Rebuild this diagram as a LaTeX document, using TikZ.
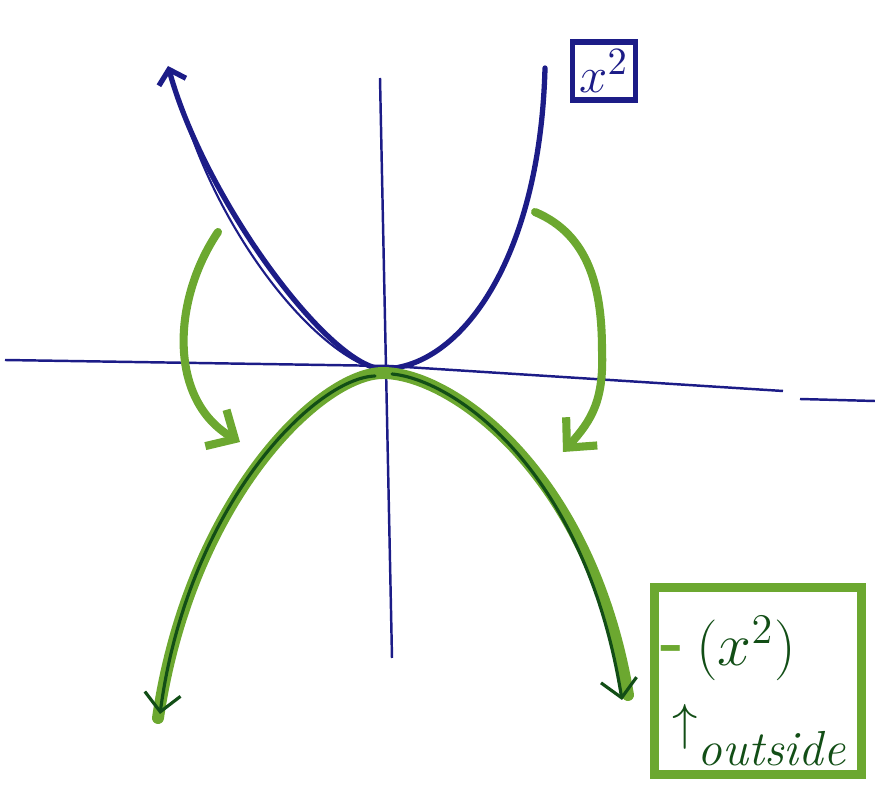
\documentclass[tikz,border=0pt]{standalone}
\usepackage{amsmath}
\usepackage{tikz}
\usetikzlibrary{arrows.meta}
\definecolor{penblue}{RGB}{28,28,135}
\definecolor{pengreen}{RGB}{108,168,48}
\definecolor{pendark}{RGB}{18,78,22}

\tikzset{
  axis/.style={penblue, line width=0.7pt},
  bluecurve/.style={penblue, line width=1.5pt, line cap=round},
  greencurve/.style={pengreen, line width=3.4pt, line cap=round},
  darkline/.style={pendark, line width=0.9pt, line cap=round},
  flip/.style={pengreen, line width=2.3pt, line cap=round,
    -{Straight Barb[length=2.2mm, width=4.2mm]}},
  darktip/.style={-{Straight Barb[length=1.8mm, width=3.6mm]}},
}

\begin{document}
\begin{tikzpicture}[x=0.01cm, y=-0.01cm]
  % 1 unit = 1 pixel of the sketch, y runs down
  \useasboundingbox (0,0) rectangle (875,785);

  % Axes
  \draw[axis] (5,360) -- (390,366) -- (783,391);
  \draw[axis] (800,399) -- (875,401);
  \draw[axis] (380,78) -- (392,658);

  % x^2 (blue, opens up)
  \coordinate (vtx) at (383,369);
  \draw[bluecurve, {Straight Barb[length=1.3mm, width=2.8mm]}-]
    (168,66) .. controls (205,200) and (330,368) .. (vtx)
    .. controls (460,368) and (540,260) .. (545,68);
  \draw[penblue, line width=0.6pt] (180,100) .. controls (215,225) and (300,335) .. (362,364);
  \node[draw=penblue, line width=1.5pt, minimum width=0.63cm, minimum height=0.58cm,
        inner sep=0pt, text=penblue, font=\fontsize{15}{17}\selectfont]
    (sqbox) at (604,71) {$x^2$};

  % -(x^2) (green, opens down)
  \coordinate (peak) at (383,373);
  \draw[greencurve] (peak) .. controls (320,373) and (190,500) .. (158,718);
  \draw[greencurve] (peak) .. controls (450,373) and (590,470) .. (628,695);
  \draw[darkline, darktip] (375,376) .. controls (315,378) and (188,505) .. (160,714);
  \draw[darkline, darktip] (392,374) .. controls (455,380) and (585,470) .. (622,700);

  % flipping arrows
  \coordinate (fromL) at (218,232);
  \coordinate (toL) at (240,442);
  \coordinate (fromR) at (535,212);
  \coordinate (toR) at (563,452);
  \draw[flip] (fromL) .. controls (172,300) and (168,400) .. (toL);
  \draw[flip] (fromR) .. controls (590,235) and (602,290) .. (602,350)
    .. controls (604,400) and (592,420) .. (toR);

  % label box for the result
  \node[draw=pengreen, line width=2.6pt, minimum width=2.07cm, minimum height=1.87cm]
    (negbox) at (758,681) {};
  \node[text=pengreen, font=\fontsize{18}{20}\selectfont\bfseries, inner sep=0pt]
    (minus) at (672,654) {-};
  \node[text=pendark, font=\fontsize{18}{20}\selectfont, inner sep=1pt]
    (negsq) at (746,648) {$(x^2)$};
  \node[text=pendark, font=\fontsize{14}{16}\selectfont, anchor=west]
    (outside) at (660,735) {$\uparrow$\raisebox{-1.2ex}{\itshape outside}};
\end{tikzpicture}
\end{document}
